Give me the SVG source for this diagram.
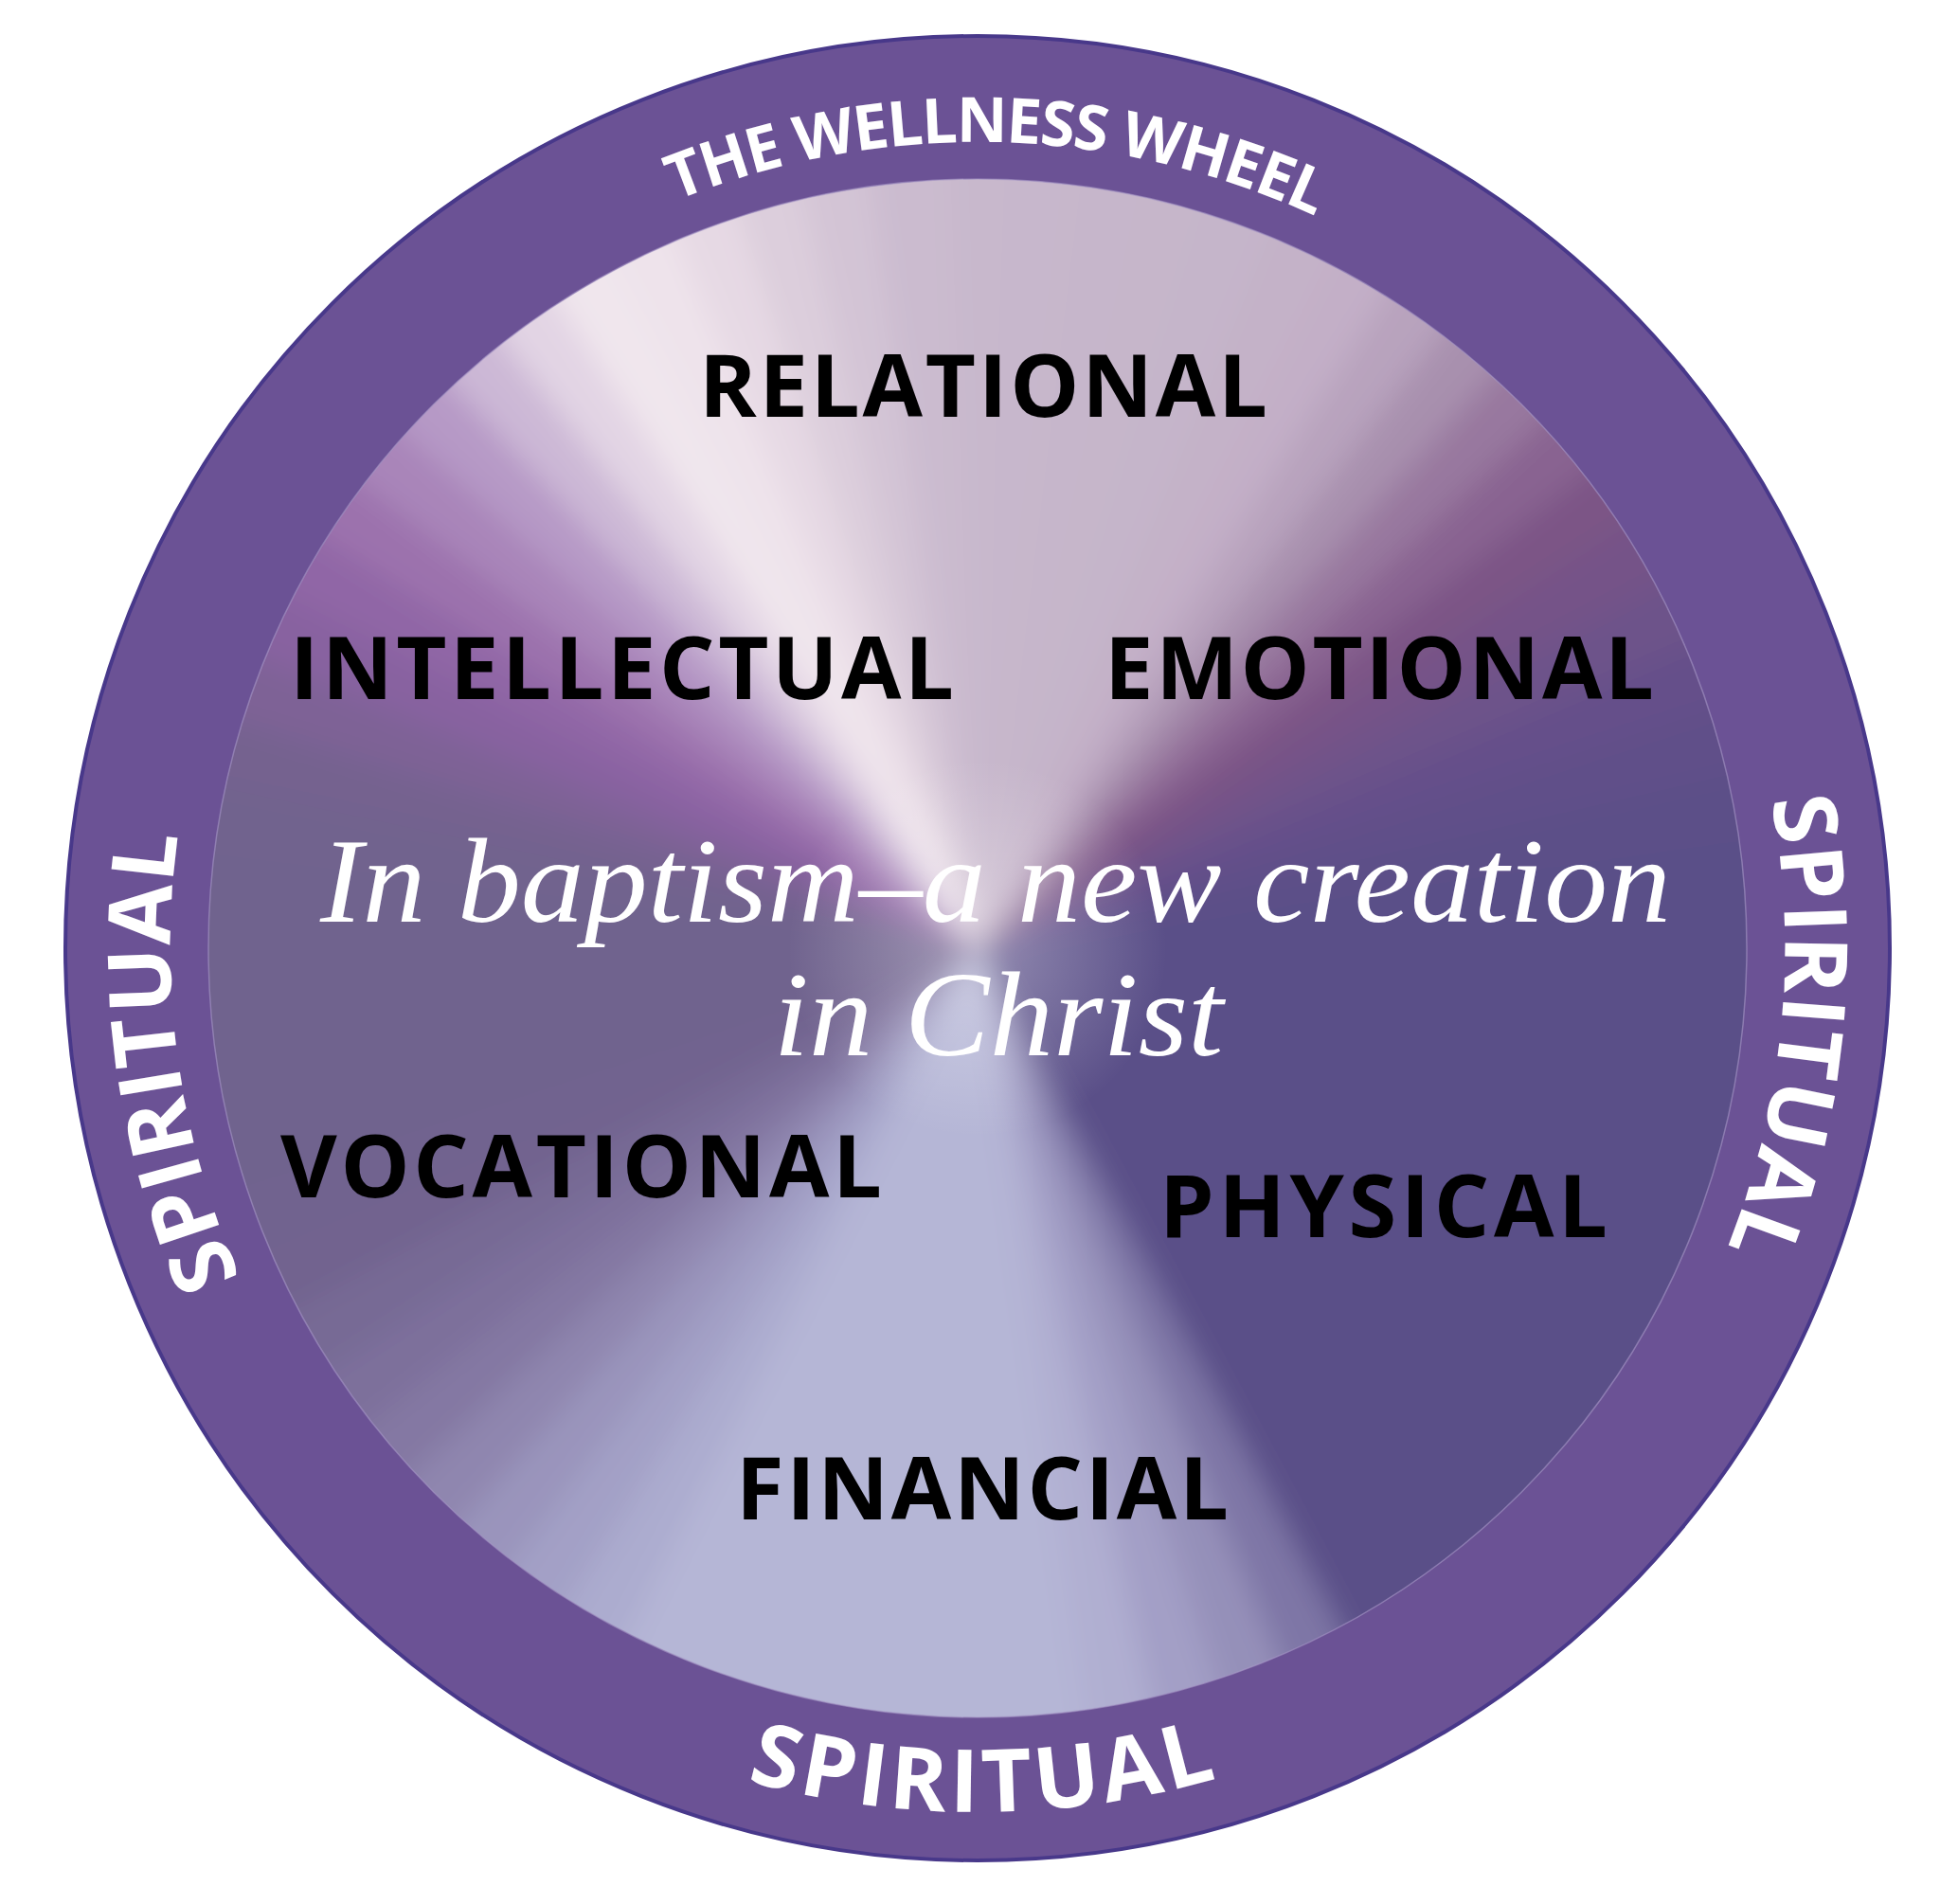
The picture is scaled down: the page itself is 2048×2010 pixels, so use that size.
<svg xmlns="http://www.w3.org/2000/svg" xmlns:xlink="http://www.w3.org/1999/xlink" width="2048" height="2010" viewBox="0 0 2048 2010">
<style>
.lbl{font-family:"Open Sans","Liberation Sans",sans-serif;font-weight:700;font-size:92px;fill:#000}
.ring{font-family:"Open Sans","Liberation Sans",sans-serif;font-weight:700;fill:#fff}
.script{font-family:"Liberation Serif","DejaVu Serif",serif;font-style:italic;font-size:128px;fill:#fff}
</style>
<defs>
<path id="w" d="M1032,1001 L984.9,102.2 L1079.1,102.2 Z"/>
<clipPath id="inner"><circle cx="1032" cy="1001" r="812"/></clipPath>
<filter id="bl" x="-10%" y="-10%" width="120%" height="120%"><feGaussianBlur stdDeviation="15"/></filter>
<radialGradient id="glow" cx="1032" cy="1001" r="200" gradientUnits="userSpaceOnUse">
<stop offset="0" stop-color="#ffffff" stop-opacity="0.35"/>
<stop offset="1" stop-color="#ffffff" stop-opacity="0"/>
</radialGradient>
<path id="pTop" d="M295,575.5 A851,851 0 0 1 1769,575.5"/>
<path id="pBot" d="M242.2,1457 A912,912 0 0 0 1821.8,1457"/>
<path id="pLeft" d="M606,1739 A852,852 0 0 1 606,263"/>
<path id="pRight" d="M1458,263 A852,852 0 0 1 1458,1739"/>
</defs>
<rect width="2048" height="2010" fill="#ffffff"/>
<g id="ring">
<circle cx="1032" cy="1001" r="963" fill="#6b5295" stroke="#48388a" stroke-width="4"/>
</g>
<g id="wheel" clip-path="url(#inner)">
<g filter="url(#bl)">
<circle cx="1032" cy="1001" r="900" fill="#5a4f88"/>
<use href="#w" fill="#c8b8cc" transform="rotate(0 1032 1001)"/>
<use href="#w" fill="#c7b7cc" transform="rotate(5 1032 1001)"/>
<use href="#w" fill="#c6b6cb" transform="rotate(10 1032 1001)"/>
<use href="#w" fill="#c6b6ca" transform="rotate(15 1032 1001)"/>
<use href="#w" fill="#c5b5ca" transform="rotate(20 1032 1001)"/>
<use href="#w" fill="#c4b2c8" transform="rotate(25 1032 1001)"/>
<use href="#w" fill="#c3afc7" transform="rotate(30 1032 1001)"/>
<use href="#w" fill="#b8a3bd" transform="rotate(35 1032 1001)"/>
<use href="#w" fill="#a890ae" transform="rotate(40 1032 1001)"/>
<use href="#w" fill="#98789f" transform="rotate(45 1032 1001)"/>
<use href="#w" fill="#896491" transform="rotate(50 1032 1001)"/>
<use href="#w" fill="#7c5486" transform="rotate(55 1032 1001)"/>
<use href="#w" fill="#745388" transform="rotate(60 1032 1001)"/>
<use href="#w" fill="#6d528a" transform="rotate(65 1032 1001)"/>
<use href="#w" fill="#65508a" transform="rotate(70 1032 1001)"/>
<use href="#w" fill="#605089" transform="rotate(75 1032 1001)"/>
<use href="#w" fill="#5c4f88" transform="rotate(80 1032 1001)"/>
<use href="#w" fill="#5a4f88" transform="rotate(85 1032 1001)"/>
<use href="#w" fill="#5a4f88" transform="rotate(150 1032 1001)"/>
<use href="#w" fill="#7e76a6" transform="rotate(155 1032 1001)"/>
<use href="#w" fill="#9590b9" transform="rotate(160 1032 1001)"/>
<use href="#w" fill="#a39fc6" transform="rotate(165 1032 1001)"/>
<use href="#w" fill="#b0afd1" transform="rotate(170 1032 1001)"/>
<use href="#w" fill="#b5b6d6" transform="rotate(175 1032 1001)"/>
<use href="#w" fill="#b5b6d6" transform="rotate(180 1032 1001)"/>
<use href="#w" fill="#b5b6d6" transform="rotate(185 1032 1001)"/>
<use href="#w" fill="#b5b6d6" transform="rotate(190 1032 1001)"/>
<use href="#w" fill="#b5b6d6" transform="rotate(195 1032 1001)"/>
<use href="#w" fill="#b5b6d6" transform="rotate(200 1032 1001)"/>
<use href="#w" fill="#b5b6d6" transform="rotate(205 1032 1001)"/>
<use href="#w" fill="#acaccf" transform="rotate(210 1032 1001)"/>
<use href="#w" fill="#a3a0c6" transform="rotate(215 1032 1001)"/>
<use href="#w" fill="#9a94bc" transform="rotate(220 1032 1001)"/>
<use href="#w" fill="#8f86af" transform="rotate(225 1032 1001)"/>
<use href="#w" fill="#8478a3" transform="rotate(230 1032 1001)"/>
<use href="#w" fill="#7d709b" transform="rotate(235 1032 1001)"/>
<use href="#w" fill="#776a95" transform="rotate(240 1032 1001)"/>
<use href="#w" fill="#72648f" transform="rotate(245 1032 1001)"/>
<use href="#w" fill="#71648f" transform="rotate(250 1032 1001)"/>
<use href="#w" fill="#70648e" transform="rotate(255 1032 1001)"/>
<use href="#w" fill="#70648e" transform="rotate(260 1032 1001)"/>
<use href="#w" fill="#70648e" transform="rotate(265 1032 1001)"/>
<use href="#w" fill="#70648e" transform="rotate(270 1032 1001)"/>
<use href="#w" fill="#70648e" transform="rotate(275 1032 1001)"/>
<use href="#w" fill="#71638e" transform="rotate(280 1032 1001)"/>
<use href="#w" fill="#74628f" transform="rotate(285 1032 1001)"/>
<use href="#w" fill="#7e6296" transform="rotate(290 1032 1001)"/>
<use href="#w" fill="#8862a0" transform="rotate(295 1032 1001)"/>
<use href="#w" fill="#9066a6" transform="rotate(300 1032 1001)"/>
<use href="#w" fill="#9c72ad" transform="rotate(305 1032 1001)"/>
<use href="#w" fill="#a985b9" transform="rotate(310 1032 1001)"/>
<use href="#w" fill="#b699c6" transform="rotate(315 1032 1001)"/>
<use href="#w" fill="#ccb8d6" transform="rotate(320 1032 1001)"/>
<use href="#w" fill="#e2d4e4" transform="rotate(325 1032 1001)"/>
<use href="#w" fill="#f0e6ed" transform="rotate(330 1032 1001)"/>
<use href="#w" fill="#eee3eb" transform="rotate(335 1032 1001)"/>
<use href="#w" fill="#e6d9e4" transform="rotate(340 1032 1001)"/>
<use href="#w" fill="#dccedc" transform="rotate(345 1032 1001)"/>
<use href="#w" fill="#d3c4d5" transform="rotate(350 1032 1001)"/>
<use href="#w" fill="#cbbbcf" transform="rotate(355 1032 1001)"/>
</g>
<circle cx="1032" cy="1001" r="200" fill="url(#glow)"/>
</g>
<circle cx="1032" cy="1001" r="812" fill="none" stroke="#a697c6" stroke-width="1.5" stroke-opacity="0.6"/>
<g id="ring-labels">
<text class="ring" font-size="66" transform="rotate(1.4 1032 1001)"><textPath href="#pTop" startOffset="50%" text-anchor="middle" textLength="695" lengthAdjust="spacing">THE WELLNESS WHEEL</textPath></text>
<text class="ring" font-size="92" transform="rotate(-0.3 1032 1001)"><textPath href="#pBot" startOffset="50%" text-anchor="middle" textLength="503" lengthAdjust="spacing">SPIRITUAL</textPath></text>
<text class="ring" font-size="92" transform="rotate(-8 1032 1001)"><textPath href="#pLeft" startOffset="50%" text-anchor="middle" textLength="478" lengthAdjust="spacing">SPIRITUAL</textPath></text>
<text class="ring" font-size="92" transform="rotate(5.6 1032 1001)"><textPath href="#pRight" startOffset="50%" text-anchor="middle" textLength="482" lengthAdjust="spacing">SPIRITUAL</textPath></text>
</g>
<g id="relational"><text class="lbl" x="738" y="440" textLength="600" lengthAdjust="spacing">RELATIONAL</text></g>
<g id="intellectual"><text class="lbl" x="306" y="738" textLength="701" lengthAdjust="spacing">INTELLECTUAL</text></g>
<g id="emotional"><text class="lbl" x="1166" y="738" textLength="580" lengthAdjust="spacing">EMOTIONAL</text></g>
<g id="vocational"><text class="lbl" x="296" y="1264" textLength="635" lengthAdjust="spacing">VOCATIONAL</text></g>
<g id="physical"><text class="lbl" x="1224" y="1306" textLength="473" lengthAdjust="spacing">PHYSICAL</text></g>
<g id="financial"><text class="lbl" x="777" y="1604" textLength="520" lengthAdjust="spacing">FINANCIAL</text></g>
<g id="center-text">
<text class="script" x="1051" y="973" text-anchor="middle" textLength="1426" lengthAdjust="spacingAndGlyphs">In baptism–a new creation</text>
<text class="script" x="1054" y="1114" text-anchor="middle" textLength="475" lengthAdjust="spacingAndGlyphs">in Christ</text>
</g>
</svg>
